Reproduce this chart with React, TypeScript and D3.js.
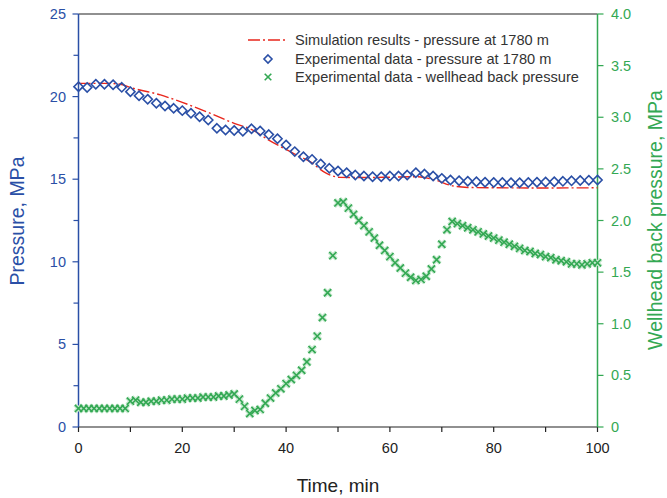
import React from "react";
import * as d3 from "d3";

const simTime = [0, 5, 8, 10, 15.8, 20, 25.4, 30, 33.4, 36.5, 41.4, 44.6, 47.8, 50.4, 55, 60, 65, 68.3, 72.2, 75, 80, 90, 100];
const simPressure = [20.8, 20.8, 20.75, 20.55, 20.1, 19.65, 18.99, 18.38, 18.0, 17.4, 16.57, 16.06, 15.35, 15.11, 15.1, 15.12, 15.15, 14.99, 14.59, 14.5, 14.48, 14.47, 14.48];

// experimental bottom-hole pressure, one reading every 100 s (5/3 min)
const expPressure = [
  20.6, 20.55, 20.75, 20.75, 20.72, 20.56, 20.3, 20.05, 19.84, 19.6,
  19.43, 19.29, 19.15, 18.99, 18.78, 18.58, 18.08, 17.98, 17.95, 17.9,
  18.05, 17.92, 17.7, 17.45, 17.07, 16.67, 16.36, 16.2, 15.92, 15.66,
  15.5, 15.39, 15.25, 15.19, 15.15, 15.15, 15.19, 15.19, 15.25, 15.39,
  15.31, 15.19, 15.05, 14.95, 14.91, 14.88, 14.85, 14.82, 14.8, 14.8,
  14.79, 14.79, 14.8, 14.82, 14.83, 14.85, 14.87, 14.9, 14.92, 14.94, 14.95,
];
const expStep = 5 / 3;

// wellhead back pressure, one reading per minute, t = 0..100
const backPressure = [
  0.18, 0.18, 0.18, 0.18, 0.18, 0.18, 0.18, 0.18, 0.18, 0.18,
  0.25, 0.26, 0.24, 0.24, 0.25, 0.25, 0.26, 0.26, 0.27, 0.27,
  0.27, 0.28, 0.28, 0.28, 0.29, 0.29, 0.29, 0.30, 0.30, 0.31,
  0.32, 0.27, 0.20, 0.13, 0.16, 0.17, 0.23, 0.28, 0.33, 0.37,
  0.42, 0.46, 0.50, 0.55, 0.63, 0.75, 0.88, 1.06, 1.30, 1.66,
  2.17, 2.18, 2.12, 2.06, 2.00, 1.95, 1.89, 1.83, 1.76, 1.71,
  1.65, 1.59, 1.54, 1.49, 1.45, 1.42, 1.43, 1.46, 1.53, 1.62,
  1.77, 1.91, 1.99, 1.97, 1.95, 1.93, 1.91, 1.89, 1.87, 1.85,
  1.83, 1.81, 1.79, 1.77, 1.75, 1.73, 1.71, 1.70, 1.68, 1.67,
  1.65, 1.64, 1.62, 1.61, 1.60, 1.58, 1.58, 1.57, 1.58, 1.59, 1.59,
];

const xTicks = [0, 20, 40, 60, 80, 100];
const xMinor = [10, 30, 50, 70, 90];
const leftTicks = [0, 5, 10, 15, 20, 25];
const leftMinor = [2.5, 7.5, 12.5, 17.5, 22.5];
const rightTicks = [0, 0.5, 1.0, 1.5, 2.0, 2.5, 3.0, 3.5, 4.0];

const legendLabels = [
  "Simulation results - pressure at 1780 m",
  "Experimental data - pressure at 1780 m",
  "Experimental data - wellhead back pressure",
];

const BLUE = "#2a4fa6";
const GREEN = "#33a853";
const RED = "#e8261c";

export default function App() {
  const W = 667, H = 498;
  const left = 78.5, right = 597.5, top = 14, bottom = 427;
  const x = d3.scaleLinear().domain([0, 100]).range([left, right]);
  const yL = d3.scaleLinear().domain([0, 25]).range([bottom, top]);
  const yR = d3.scaleLinear().domain([0, 4]).range([bottom, top]);

  const simLine = d3
    .line<number>()
    .x((_, i) => x(simTime[i]))
    .y((d) => yL(d))
    .curve(d3.curveMonotoneX)(simPressure) as string;

  const font = "Arial, 'Liberation Sans', sans-serif";
  const dash = "12 3 2 3";

  const diamond = (cx: number, cy: number, r: number) =>
    `M${cx},${cy - r}L${cx + r},${cy}L${cx},${cy + r}L${cx - r},${cy}Z`;
  const cross = (cx: number, cy: number, r: number) =>
    `M${cx - r},${cy - r}L${cx + r},${cy + r}M${cx - r},${cy + r}L${cx + r},${cy - r}`;

  return (
    <svg width={W} height={H} style={{ position: "absolute", left: 0, top: 0, background: "#fff" }} fontFamily={font}>
      {/* frame */}
      <line x1={left} x2={right} y1={top} y2={top} stroke="#222" strokeWidth={1.2} />
      <line x1={left} x2={right} y1={bottom} y2={bottom} stroke="#222" strokeWidth={1.2} />
      <line x1={left} x2={left} y1={top} y2={bottom} stroke={BLUE} strokeWidth={1.5} />
      <line x1={right} x2={right} y1={top} y2={bottom} stroke={GREEN} strokeWidth={1.5} />

      {/* bottom axis */}
      {xTicks.map((t) => (
        <g key={"xt" + t}>
          <line x1={x(t)} x2={x(t)} y1={bottom} y2={bottom + 5} stroke="#222" strokeWidth={1.2} />
          <text x={x(t)} y={453} textAnchor="middle" fontSize={14.5} fill="#222">{t}</text>
        </g>
      ))}
      {xMinor.map((t) => (
        <line key={"xm" + t} x1={x(t)} x2={x(t)} y1={bottom} y2={bottom + 5} stroke="#222" strokeWidth={1.2} />
      ))}
      <text x={338} y={492} textAnchor="middle" fontSize={19} fill="#222">Time, min</text>

      {/* left axis */}
      {leftTicks.map((t) => (
        <g key={"lt" + t}>
          <line x1={left - 6} x2={left} y1={yL(t)} y2={yL(t)} stroke={BLUE} strokeWidth={1.2} />
          <text x={66} y={yL(t) + 5} textAnchor="end" fontSize={14.5} fill={BLUE}>{t}</text>
        </g>
      ))}
      {leftMinor.map((t) => (
        <line key={"lm" + t} x1={left - 5} x2={left} y1={yL(t)} y2={yL(t)} stroke={BLUE} strokeWidth={1.2} />
      ))}
      <text transform={`translate(24,221) rotate(-90)`} textAnchor="middle" fontSize={19.5} fill={BLUE}>Pressure, MPa</text>

      {/* right axis */}
      {rightTicks.map((t) => (
        <g key={"rt" + t}>
          <line x1={right} x2={right + 6} y1={yR(t)} y2={yR(t)} stroke={GREEN} strokeWidth={1.2} />
          <text x={611} y={yR(t) + 5} textAnchor="start" fontSize={14.5} fill={GREEN}>{t === 0 ? "0" : t.toFixed(1)}</text>
        </g>
      ))}
      <text transform={`translate(662,220) rotate(-90)`} textAnchor="middle" fontSize={19.5} fill={GREEN}>Wellhead back pressure, MPa</text>

      {/* simulation line */}
      <path d={simLine} fill="none" stroke={RED} strokeWidth={1.4} strokeDasharray={dash} />

      {/* back pressure crosses */}
      <g>
        {backPressure.map((v, i) => (
          <path key={"gh" + i} d={cross(x(i), yR(v), 3.6)} stroke="#c7e9cf" strokeWidth={4} fill="none" />
        ))}
        {backPressure.map((v, i) => (
          <path key={"g" + i} d={cross(x(i), yR(v), 3.6)} stroke={GREEN} strokeWidth={1.6} fill="none" />
        ))}
      </g>

      {/* experimental pressure diamonds */}
      <g>
        {expPressure.map((v, i) => (
          <path key={"b" + i} d={diamond(x(i * expStep), yL(v), 4.6)} stroke={BLUE} strokeWidth={1.6} fill="none" />
        ))}
      </g>

      {/* legend */}
      <g fontSize={14.6} fill="#333">
        <line x1={248} x2={288} y1={40} y2={40} stroke={RED} strokeWidth={1.4} strokeDasharray={dash} />
        <text x={295} y={45}>{legendLabels[0]}</text>
        <path d={diamond(268, 59, 4)} stroke={BLUE} strokeWidth={1.6} fill="none" />
        <text x={295} y={64}>{legendLabels[1]}</text>
        <path d={cross(268, 77, 3.3)} stroke={GREEN} strokeWidth={1.6} fill="none" />
        <text x={295} y={82}>{legendLabels[2]}</text>
      </g>
    </svg>
  );
}
